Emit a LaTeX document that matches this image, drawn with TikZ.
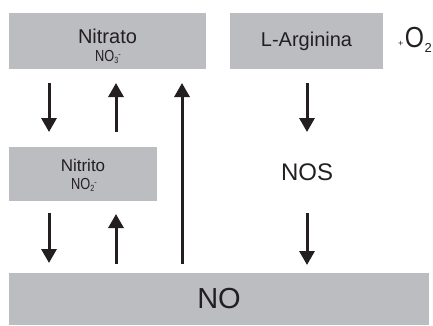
\documentclass[tikz,border=0pt]{standalone}
\usepackage{fontspec}
\usepackage{graphicx}
\setmainfont{Liberation Sans}
\usetikzlibrary{arrows.meta}
\definecolor{boxgray}{HTML}{BCBDC0}
\definecolor{ink}{HTML}{231F20}
\newcommand{\chemion}[2]{\scalebox{0.8}[1]{NO{\fontsize{9}{9}\selectfont\raisebox{-2.5pt}{#1}\raisebox{4pt}{#2}}}}
\begin{document}
\begin{tikzpicture}[x=1pt,y=-1pt,
  box/.style={fill=boxgray,draw=none,inner sep=0pt,align=center,text=ink},
  lbl/.style={text=ink,inner sep=0pt},
  arr/.style={draw=ink,line width=3pt,-{Triangle[width=15pt,length=14pt]}}]
\useasboundingbox (0,0) rectangle (433,325);
\node[box,minimum width=197pt,minimum height=56pt] (nitrato) at (107.5,41) {};
\node[lbl,font=\fontsize{20}{20}\selectfont] (nitratot) at (107.5,36) {Nitrato};
\node[lbl,font=\fontsize{16}{16}\selectfont] (no3) at (108,57) {\chemion{3}{-}};
\node[box,minimum width=153pt,minimum height=56pt,font=\fontsize{20}{22}\selectfont] (arg) at (306.5,41) {L-Arginina};
\node[lbl,anchor=east] (o2) at (432,40) {\raisebox{1pt}{\fontsize{9}{9}\selectfont +}\hspace{1.5pt}\scalebox{0.85}[1]{\fontsize{29}{29}\selectfont O}\hspace{0.5pt}{\fontsize{13}{13}\selectfont\raisebox{-4.5pt}{2}}};
\node[box,minimum width=148pt,minimum height=54pt] (nitrito) at (83,174) {};
\node[lbl,font=\fontsize{17}{17}\selectfont] (nitritot) at (83,165) {Nitrito};
\node[lbl,font=\fontsize{16}{16}\selectfont] (no2) at (84,185) {\chemion{2}{-}};
\node[box,minimum width=420pt,minimum height=52pt,font=\fontsize{29}{30}\selectfont] (no) at (219,299) {NO};
\node[lbl,font=\fontsize{24}{26}\selectfont] (nos) at (307,172) {NOS};
\coordinate (a1s) at (49,83);  \coordinate (a1e) at (49,132);
\coordinate (a2s) at (116,132); \coordinate (a2e) at (116,83);
\coordinate (a3s) at (182,264); \coordinate (a3e) at (182,83);
\coordinate (a4s) at (307,83); \coordinate (a4e) at (307,132);
\coordinate (a5s) at (49,213); \coordinate (a5e) at (49,263);
\coordinate (a6s) at (116,264); \coordinate (a6e) at (116,214);
\coordinate (a7s) at (307,213); \coordinate (a7e) at (307,265);
\draw[arr] (a1s) -- (a1e);
\draw[arr] (a2s) -- (a2e);
\draw[arr] (a3s) -- (a3e);
\draw[arr] (a4s) -- (a4e);
\draw[arr] (a5s) -- (a5e);
\draw[arr] (a6s) -- (a6e);
\draw[arr] (a7s) -- (a7e);
\end{tikzpicture}
\end{document}
